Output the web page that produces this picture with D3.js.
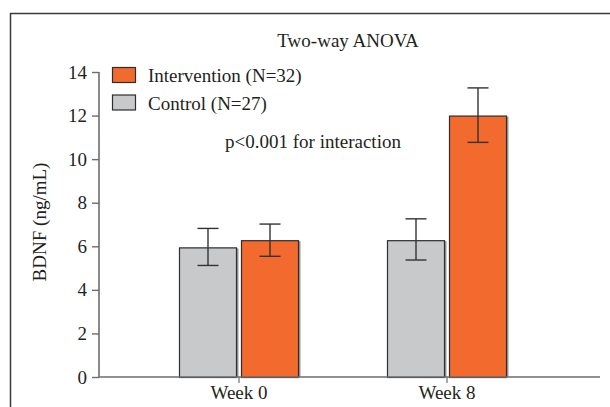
<!DOCTYPE html>
<html>
<head>
<meta charset="utf-8">
<script src="https://cdn.jsdelivr.net/npm/d3@7"></script>
<style>
  body { margin: 0; background: #fff; }
  text { font-family: "Liberation Serif", "DejaVu Serif", serif; fill: #231f20; }
</style>
</head>
<body>
<div id="chart"></div>
<script>

const W = 610;
const H = 407;

const AXIS_X = 99;
const AXIS_Y0 = 377;
const AXIS_Y_TOP = 72;
const AXIS_X_END = 600;

const FONT_SIZE = 19;

const COLOR_INTERVENTION = "#f26a2e";
const COLOR_CONTROL = "#c8c9cb";
const COLOR_STROKE = "#2e2e2e";
const COLOR_AXIS = "#6d6d6d";

// -------------------------------------------------

const weeks = ["Week 0", "Week 8"];
const groups = ["Control", "Intervention"];
const legend_labels = ["Intervention (N=32)", "Control (N=27)"];
const y_ticks = [0, 2, 4, 6, 8, 10, 12, 14];

const control_mean = [5.95, 6.28];
const control_lo = [5.12, 5.37];
const control_hi = [6.82, 7.26];

const intervention_mean = [6.28, 12.0];
const intervention_lo = [5.54, 10.77];
const intervention_hi = [7.02, 13.27];

// -------------------------------------------------

let svg = d3.select("#chart")
              .append("svg")
                .attr("width", W)
                .attr("height", H);

// frame
svg.append("path")
        .attr("d", "M10.5," + H + " V13.5 H" + W)
        .attr("fill", "none")
        .attr("stroke", "#3a3a3a")
        .attr("stroke-width", 1.5)

let y = d3.scaleLinear()
            .domain([0, 14])
            .range([AXIS_Y0, AXIS_Y_TOP])

let x0 = d3.scaleBand()
            .domain(weeks)
            .range([135, 551])

let x1 = d3.scaleBand()
            .domain(groups)
            .range([-60, 60])
            .paddingInner(0.0645)

// ---------------------------------------------------------------------------------

let rows = [];
weeks.forEach(function (w, i) {
    rows.push({ week: w, group: "Control", mean: control_mean[i], lo: control_lo[i], hi: control_hi[i], color: COLOR_CONTROL });
    rows.push({ week: w, group: "Intervention", mean: intervention_mean[i], lo: intervention_lo[i], hi: intervention_hi[i], color: COLOR_INTERVENTION });
});

function cx(d) { return x0(d.week) + x0.bandwidth() / 2 + x1(d.group); }

// bar shadow on right side
svg.selectAll(".shadow")
    .data(rows)
    .enter()
    .append("rect")
        .attr("x", d => cx(d) + 1.5)
        .attr("y", d => y(d.mean) + 1)
        .attr("width", x1.bandwidth())
        .attr("height", d => y(0) - y(d.mean) - 1)
        .attr("fill", "#9a9a9a")

svg.selectAll(".bar")
    .data(rows)
    .enter()
    .append("rect")
        .attr("x", d => cx(d) + 0.5)
        .attr("y", d => y(d.mean) + 0.5)
        .attr("width", x1.bandwidth() - 1)
        .attr("height", d => y(0) - y(d.mean))
        .attr("fill", d => d.color)
        .attr("stroke", COLOR_STROKE)
        .attr("stroke-width", 1.2)

// error bars
let eb = svg.selectAll(".err")
    .data(rows)
    .enter()
    .append("g")
        .attr("stroke", "#333")
        .attr("stroke-width", 1.4)

eb.append("line")
    .attr("x1", d => cx(d) + x1.bandwidth() / 2)
    .attr("x2", d => cx(d) + x1.bandwidth() / 2)
    .attr("y1", d => y(d.lo))
    .attr("y2", d => y(d.hi))

eb.append("line")
    .attr("x1", d => cx(d) + x1.bandwidth() / 2 - 10.5)
    .attr("x2", d => cx(d) + x1.bandwidth() / 2 + 10.5)
    .attr("y1", d => y(d.hi))
    .attr("y2", d => y(d.hi))

eb.append("line")
    .attr("x1", d => cx(d) + x1.bandwidth() / 2 - 10.5)
    .attr("x2", d => cx(d) + x1.bandwidth() / 2 + 10.5)
    .attr("y1", d => y(d.lo))
    .attr("y2", d => y(d.lo))

// ---------------------------------------------------------------------------------
// axes

let yAxis = svg.append("g")
        .attr("transform", "translate(" + AXIS_X + ",0)")
        .call(d3.axisLeft(y).tickValues(y_ticks).tickSize(7).tickPadding(5))

yAxis.attr("font-family", null).attr("font-size", null)
yAxis.select(".domain").remove()
yAxis.selectAll("line").attr("stroke", COLOR_AXIS).attr("stroke-width", 1.4)
yAxis.selectAll("text")
        .attr("font-size", FONT_SIZE)
        .attr("fill", "#231f20")

svg.append("line")
        .attr("x1", AXIS_X)
        .attr("x2", AXIS_X)
        .attr("y1", y(14))
        .attr("y2", y(0))
        .attr("stroke", COLOR_AXIS)
        .attr("stroke-width", 1.6)

svg.append("line")
        .attr("x1", AXIS_X)
        .attr("x2", AXIS_X_END)
        .attr("y1", y(0))
        .attr("y2", y(0))
        .attr("stroke", COLOR_AXIS)
        .attr("stroke-width", 1.6)

let xAxis = svg.append("g")
        .attr("transform", "translate(0," + y(0) + ")")
        .call(d3.axisBottom(x0).tickSize(6).tickPadding(3))

xAxis.attr("font-family", null).attr("font-size", null)
xAxis.select(".domain").remove()
xAxis.selectAll("line").attr("stroke", COLOR_AXIS).attr("stroke-width", 1.2)
xAxis.selectAll("text")
        .attr("font-size", FONT_SIZE)
        .attr("fill", "#231f20")

svg.append("text")
        .attr("transform", "translate(46," + 222 + ") rotate(-90)")
        .attr("text-anchor", "middle")
        .attr("font-size", FONT_SIZE)
        .text("BDNF (ng/mL)")

// ---------------------------------------------------------------------------------
// title + annotation

svg.append("text")
        .attr("x", 348)
        .attr("y", 47)
        .attr("text-anchor", "middle")
        .attr("font-size", FONT_SIZE)
        .text("Two-way ANOVA")

svg.append("text")
        .attr("x", 313)
        .attr("y", 148)
        .attr("text-anchor", "middle")
        .attr("font-size", FONT_SIZE)
        .text("p<0.001 for interaction")

// legend
let legend_colors = [COLOR_INTERVENTION, COLOR_CONTROL];
legend_labels.forEach(function (lab, i) {
    svg.append("rect")
        .attr("x", 112.5)
        .attr("y", 67.5 + i * 27.5)
        .attr("width", 23)
        .attr("height", 15)
        .attr("fill", legend_colors[i])
        .attr("stroke", COLOR_STROKE)
        .attr("stroke-width", 1.2)

    svg.append("text")
        .attr("x", 148)
        .attr("y", 82 + i * 27.5)
        .attr("font-size", FONT_SIZE)
        .text(lab)
});

</script>
</body>
</html>
